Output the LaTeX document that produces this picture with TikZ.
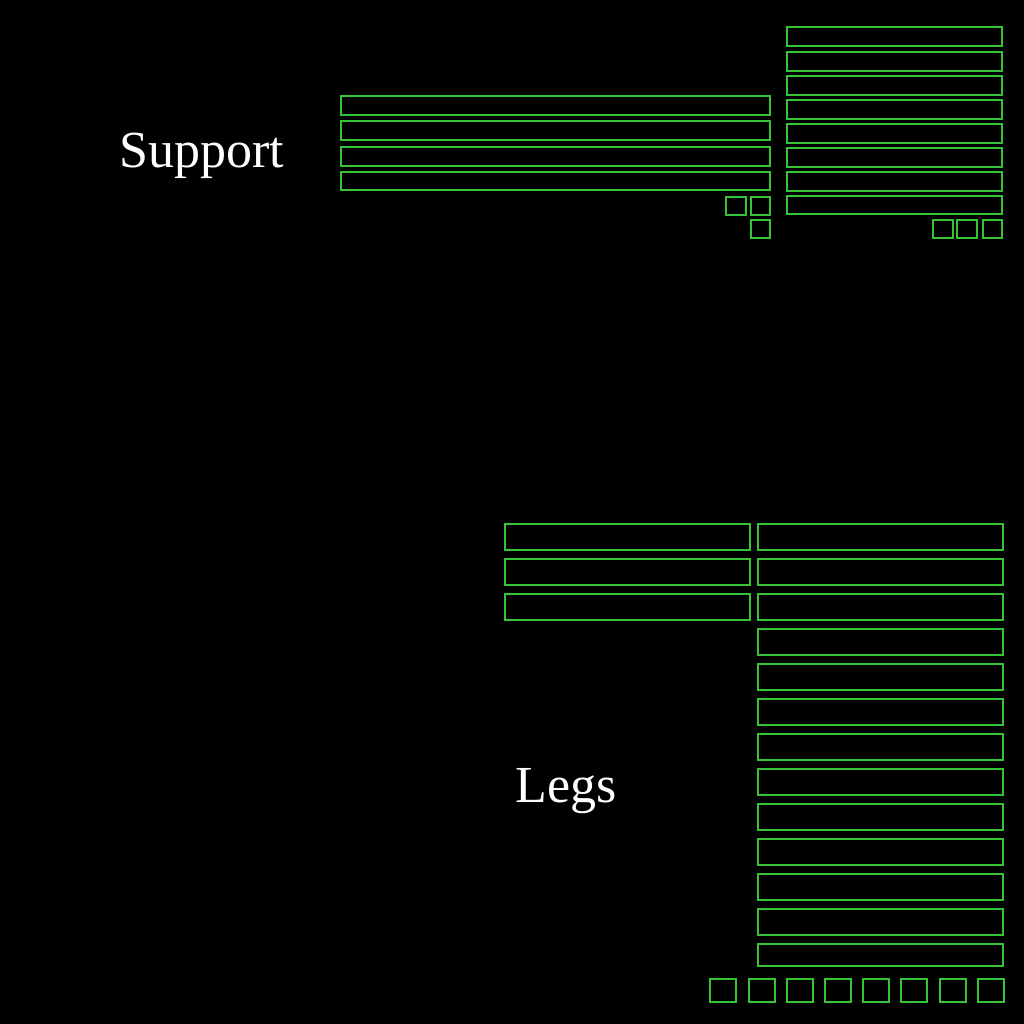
\documentclass[tikz,border=0pt]{standalone}
\usepackage{fontspec}
\setmainfont{Liberation Serif}
\usepackage{tikz}
\usetikzlibrary{positioning}

\definecolor{partgreen}{RGB}{52,196,52}
\tikzset{
    box/.style 2 args={draw=partgreen, line width=1.3pt, inner sep=0pt, outer sep=0pt,
        anchor=north west, minimum width=#1pt, minimum height=#2pt},
    title/.style={text=white, anchor=base, font=\fontsize{52}{60}\selectfont}
}

\begin{document}
\begin{tikzpicture}[x=1pt, y=-1pt]
    \fill[black] (0, 0) rectangle (1024, 1024);
    \useasboundingbox (0, 0) rectangle (1024, 1024);

    % support
    \node[title] at (202, 168) (support) {Support};
    \node[box={429}{19}] at (341, 96) (s1) {};
    \node[box={429}{19}] at (341, 121) (s2) {};
    \node[box={429}{19}] at (341, 147) (s3) {};
    \node[box={429}{18}] at (341, 172) (s4) {};
    \node[box={20}{18}] at (726, 197) (sq1) {};
    \node[box={19}{18}] at (751, 197) (sq2) {};
    \node[box={19}{18}] at (751, 220) (sq3) {};

    \node[box={215}{19}] at (787, 27) (t1) {};
    \node[box={215}{19}] at (787, 52) (t2) {};
    \node[box={215}{19}] at (787, 76) (t3) {};
    \node[box={215}{19}] at (787, 100) (t4) {};
    \node[box={215}{19}] at (787, 124) (t5) {};
    \node[box={215}{19}] at (787, 148) (t6) {};
    \node[box={215}{19}] at (787, 172) (t7) {};
    \node[box={215}{18}] at (787, 196) (t8) {};
    \node[box={20}{18}] at (933, 220) (tq1) {};
    \node[box={20}{18}] at (957, 220) (tq2) {};
    \node[box={19}{18}] at (983, 220) (tq3) {};

    % legs
    \node[title] at (566, 802) (legs) {Legs};
    \node[box={245}{26}] at (505, 524) (l1) {};
    \node[box={245}{26}] at (505, 559) (l2) {};
    \node[box={245}{26}] at (505, 594) (l3) {};

    \node[box={245}{26}] at (758, 524) (r1) {};
    \node[box={245}{26}] at (758, 559) (r2) {};
    \node[box={245}{26}] at (758, 594) (r3) {};
    \node[box={245}{26}] at (758, 629) (r4) {};
    \node[box={245}{26}] at (758, 664) (r5) {};
    \node[box={245}{26}] at (758, 699) (r6) {};
    \node[box={245}{26}] at (758, 734) (r7) {};
    \node[box={245}{26}] at (758, 769) (r8) {};
    \node[box={245}{26}] at (758, 804) (r9) {};
    \node[box={245}{26}] at (758, 839) (r10) {};
    \node[box={245}{26}] at (758, 874) (r11) {};
    \node[box={245}{26}] at (758, 909) (r12) {};
    \node[box={245}{22}] at (758, 944) (r13) {};

    \node[box={26}{23}] at (710, 979) (b1) {};
    \node[box={26}{23}] at (749, 979) (b2) {};
    \node[box={26}{23}] at (787, 979) (b3) {};
    \node[box={26}{23}] at (825, 979) (b4) {};
    \node[box={26}{23}] at (863, 979) (b5) {};
    \node[box={26}{23}] at (901, 979) (b6) {};
    \node[box={26}{23}] at (940, 979) (b7) {};
    \node[box={26}{23}] at (978, 979) (b8) {};
\end{tikzpicture}
\end{document}
